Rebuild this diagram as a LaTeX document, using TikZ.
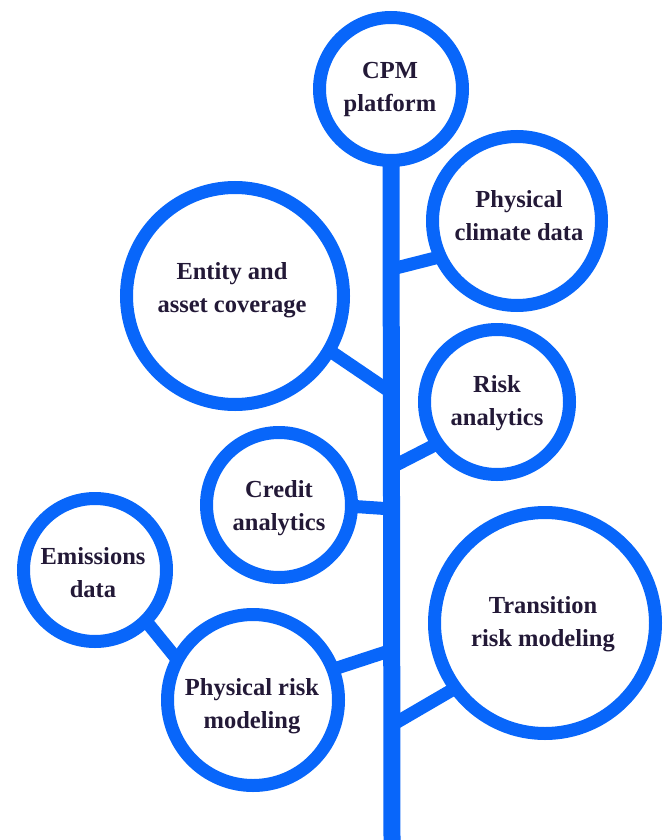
\documentclass[tikz,border=0pt]{standalone}
\usepackage{fontspec}
\setmainfont{Liberation Serif}
\definecolor{treeblue}{RGB}{8,102,250}
\definecolor{inkdark}{RGB}{35,25,55}
\tikzset{
  ring/.style={circle, draw=treeblue, fill=white, line width=13pt, outer sep=0pt, inner sep=0pt},
  lbl/.style={align=center, text=inkdark, font=\fontsize{24.5}{33}\selectfont\bfseries, text height=16pt, text depth=6pt, inner sep=0pt},
  branch/.style={draw=treeblue, line width=13pt},
  trunkline/.style={draw=treeblue, line width=17pt}
}
\begin{document}
\begin{tikzpicture}[x=1pt,y=-1pt]
\useasboundingbox (0,0) rectangle (665,840);
% circles
\node[ring, minimum size=143pt] (cpm) at (391,89) {};
\node[ring, minimum size=169pt] (pcd) at (517,221) {};
\node[ring, minimum size=217pt] (ent) at (235,296) {};
\node[ring, minimum size=145pt] (risk) at (497,402) {};
\node[ring, minimum size=145pt] (cred) at (279,505) {};
\node[ring, minimum size=143pt] (emis) at (95,570) {};
\node[ring, minimum size=171pt] (prm) at (253,700) {};
\node[ring, minimum size=221pt] (trm) at (545,623) {};
% labels
\node[lbl] (cpm-t) at (390,107) {CPM\\platform};
\node[lbl] (pcd-t) at (519,235) {Physical\\climate data};
\node[lbl] (ent-t) at (232,307) {Entity and\\asset coverage};
\node[lbl] (risk-t) at (497,420) {Risk\\analytics};
\node[lbl] (cred-t) at (279,525) {Credit\\analytics};
\node[lbl] (emis-t) at (93,592) {Emissions\\data};
\node[lbl] (prm-t) at (252,723) {Physical risk\\modeling};
\node[lbl] (trm-t) at (543,641) {Transition\\risk modeling};
% trunk and junctions
\coordinate (base) at (392,840);
\coordinate (j-pcd) at (392,269);
\coordinate (j-ent) at (392,393);
\coordinate (j-risk) at (392,467);
\coordinate (j-cred) at (392,509);
\coordinate (j-prm) at (392,650);
\coordinate (j-trm) at (392,725);
\draw[trunkline] (cpm.south) -- (base);
\draw[branch] (j-pcd) -- (pcd.205);
\draw[branch] (j-ent) -- (ent.330);
\draw[branch] (j-risk) -- (risk.215);
\draw[branch] (j-cred) -- (cred.-1);
\draw[branch] (j-prm) -- (prm.21);
\draw[branch] (j-trm) -- (trm.216);
\draw[branch] (emis.315) -- (prm.152);
\end{tikzpicture}
\end{document}
